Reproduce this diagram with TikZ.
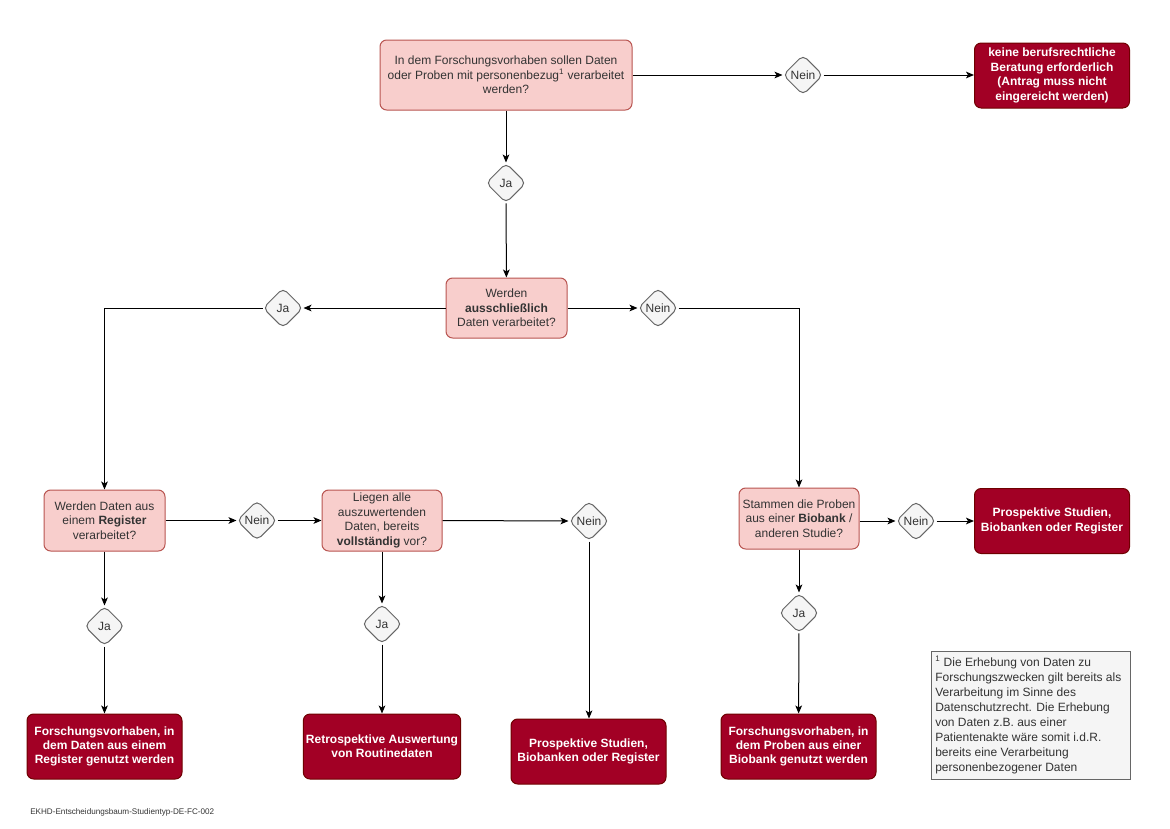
\documentclass[tikz,border=0pt]{standalone}
\usepackage{fontspec}
\setmainfont{Liberation Sans}
\usetikzlibrary{shapes.geometric,arrows.meta}
\definecolor{pinkfill}{HTML}{F8CECC}
\definecolor{pinkdraw}{HTML}{B85450}
\definecolor{redfill}{HTML}{A20025}
\definecolor{reddraw}{HTML}{6F0000}
\definecolor{grayfill}{HTML}{F5F5F5}
\definecolor{graydraw}{HTML}{666666}
\definecolor{graytext}{HTML}{333333}
\tikzset{
  question/.style={draw=pinkdraw, fill=pinkfill, rounded corners=5pt, line width=0.75pt,
    align=center, text=graytext, font=\fontsize{9}{10.8}\selectfont, inner sep=2pt},
  result/.style={draw=reddraw, fill=redfill, rounded corners=5pt, line width=0.75pt,
    align=center, text=white, font=\fontsize{9}{10.8}\selectfont\bfseries,
    minimum width=116.25pt, minimum height=48.75pt, inner sep=2pt},
  choice/.style={diamond, draw=graydraw, fill=grayfill, rounded corners=4pt, line width=0.75pt,
    text=graytext, font=\fontsize{9}{10.8}\selectfont, minimum width=30pt, minimum height=30pt,
    inner sep=0pt, aspect=1},
  conn/.style={draw=black, line width=0.75pt, -{Stealth[length=6pt,width=5pt,inset=1.5pt]}},
}
\begin{document}
\begin{tikzpicture}[x=0.75pt,y=-0.75pt]
\useasboundingbox (0,0) rectangle (1170,828);
% question nodes
\node[question, minimum width=189pt, minimum height=52.5pt] (A) at (506,75)
  {In dem Forschungsvorhaben sollen Daten\\oder Proben mit personenbezug\textsuperscript{1} verarbeitet\\werden?};
\node[question, minimum width=90.75pt, minimum height=45pt] (B) at (506.5,308)
  {Werden\\\textbf{ausschließlich}\\Daten verarbeitet?};
\node[question, minimum width=90.75pt, minimum height=45.75pt] (C) at (104.5,520.5)
  {Werden Daten aus\\einem \textbf{Register}\\verarbeitet?};
\node[question, minimum width=90pt, minimum height=45.75pt] (D) at (382,520.5)
  {Liegen alle\\auszuwertenden\\Daten, bereits\\\textbf{vollständig} vor?};
\node[question, minimum width=90pt, minimum height=45.75pt] (F) at (799,518.5)
  {Stammen die Proben\\aus einer \textbf{Biobank} /\\anderen Studie?};
% results
\node[result] (E1) at (1052,75.5) {keine berufsrechtliche\\Beratung erforderlich\\(Antrag muss nicht\\eingereicht werden)};
\node[result] (E2) at (1052,521) {Prospektive Studien,\\Biobanken oder Register};
\node[result] (L1) at (104.5,746.5) {Forschungsvorhaben, in\\dem Daten aus einem\\Register genutzt werden};
\node[result] (L2) at (382,746.5) {Retrospektive Auswertung\\von Routinedaten};
\node[result] (L3) at (588.5,751.5) {Prospektive Studien,\\Biobanken oder Register};
\node[result] (L4) at (798.5,746.5) {Forschungsvorhaben, in\\dem Proben aus einer\\Biobank genutzt werden};
% choices
\node[choice] (n1) at (803,75) {Nein};
\node[choice] (j1) at (506,183) {Ja};
\node[choice] (j2) at (283,308) {Ja};
\node[choice] (n2) at (658,308) {Nein};
\node[choice] (n3) at (257,520.5) {Nein};
\node[choice] (n4) at (589,521) {Nein};
\node[choice] (j3) at (104.5,626) {Ja};
\node[choice] (j4) at (382,624) {Ja};
\node[choice] (n5) at (916,521) {Nein};
\node[choice] (j5) at (799,613) {Ja};
% footnote
\node[draw=graydraw, fill=grayfill, line width=0.75pt, minimum width=149.25pt, minimum height=96pt] (fn) at (1030.5,715) {};
\node[anchor=north west, align=left, text=graytext, font=\fontsize{9}{11.2}\selectfont, inner sep=0pt] (fntext) at (935,656)
  {\textsuperscript{1} Die Erhebung von Daten zu\\Forschungszwecken gilt bereits als\\Verarbeitung im Sinne des\\Datenschutzrecht. Die Erhebung\\von Daten z.B. aus einer\\Patientenakte wäre somit i.d.R.\\bereits eine Verarbeitung\\personenbezogener Daten};
\node[anchor=west, text=graytext, font=\fontsize{6.1}{7}\selectfont, inner sep=0pt] (id) at (30,812)
  {EKHD-Entscheidungsbaum-Studientyp-DE-FC-002};
% connectors
\draw[conn] (A) -- (j1);
\draw[conn] (j1) -- (B);
\draw[conn] (A.east |- n1) -- (n1);
\draw[conn] (n1) -- (E1.west |- n1);
\draw[conn] (B) -- (j2);
\draw[conn] (j2.west) -| (C.north);
\draw[conn] (B) -- (n2);
\draw[conn] (n2.east) -| (F.north);
\draw[conn] (C) -- (n3);
\draw[conn] (n3) -- (D);
\draw[conn] (D.east) -- (n4.west);
\draw[conn] (n4.south) -- (L3.north -| n4.south);
\draw[conn] (C) -- (j3);
\draw[conn] (j3) -- (L1);
\draw[conn] (D) -- (j4);
\draw[conn] (j4) -- (L2);
\draw[conn] (F.east |- n5) -- (n5);
\draw[conn] (n5) -- (E2.west |- n5);
\draw[conn] (F) -- (j5);
\draw[conn] (j5) -- (L4);
\end{tikzpicture}
\end{document}
